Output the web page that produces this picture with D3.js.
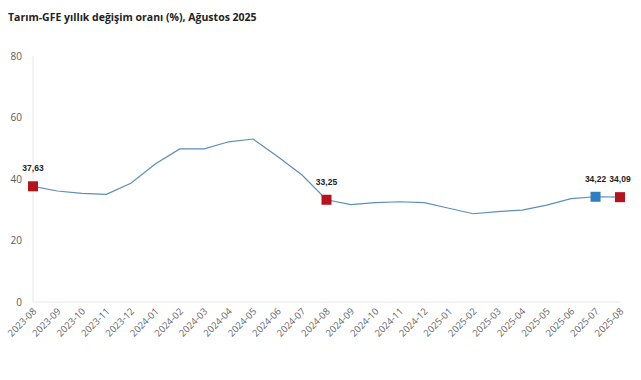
<!DOCTYPE html>
<html lang="tr">
<head>
<meta charset="utf-8">
<title>Tarım-GFE</title>
<script src="https://cdn.jsdelivr.net/npm/d3@7"></script>
<style>
  body { margin: 0; background: #fff; }
  text { font-family: "Open Sans", "Noto Sans", sans-serif; }
</style>
</head>
<body>
<script>
// data
var months = ["2023-08","2023-09","2023-10","2023-11","2023-12","2024-01","2024-02","2024-03",
              "2024-04","2024-05","2024-06","2024-07","2024-08","2024-09","2024-10","2024-11",
              "2024-12","2025-01","2025-02","2025-03","2025-04","2025-05","2025-06","2025-07","2025-08"];
var values = [37.63, 36.1, 35.3, 35.0, 38.6, 44.9, 49.8, 49.8,
              52.1, 53.0, 47.3, 41.3, 33.25, 31.7, 32.3, 32.6,
              32.3, 30.5, 28.7, 29.4, 29.9, 31.5, 33.6, 34.22, 34.09];
var yTicks = [0, 20, 40, 60, 80];
var redMarks = ["2023-08", "2024-08", "2025-08"];
var blueMarks = ["2025-07"];

var w = 641, h = 380;
var svg = d3.select("body").append("svg").attr("width", w).attr("height", h);

svg.append("text")
   .attr("x", 8).attr("y", 21)
   .attr("font-size", 10.5).attr("font-weight", "bold").attr("fill", "#222")
   .text("Tarım-GFE yıllık değişim oranı (%), Ağustos 2025");

var x = d3.scalePoint().domain(months).range([33, 620]);
var y = d3.scaleLinear().domain([0, 80]).range([302, 56]);

// axes lines
svg.append("line").attr("x1", 33).attr("x2", 33).attr("y1", y(80)).attr("y2", y(0))
   .attr("stroke", "#e6e6e6");
svg.append("line").attr("x1", 33).attr("x2", 620).attr("y1", y(0)).attr("y2", y(0))
   .attr("stroke", "#e6e6e6");

// y labels
svg.selectAll(".yl").data(yTicks).enter().append("text")
   .attr("x", 22).attr("y", function(d) { return y(d) + 3.5; })
   .attr("text-anchor", "end").attr("font-size", 10).attr("fill", "#595959")
   .text(function(d) { return d; });

// x labels
svg.selectAll(".xl").data(months).enter().append("text")
   .attr("text-anchor", "end").attr("font-size", 9.5).attr("fill", "#666")
   .attr("transform", function(d) { return "translate(" + (x(d) + 4) + ",312) rotate(-45)"; })
   .text(function(d) { return d; });

// line
var line = d3.line()
   .x(function(d, i) { return x(months[i]); })
   .y(function(d) { return y(d); });
svg.append("path").datum(values).attr("d", line)
   .attr("fill", "none").attr("stroke", "#5b8fb9").attr("stroke-width", 1.2);

// markers
var marks = months.map(function(m, i) { return { m: m, v: values[i] }; })
   .filter(function(d) { return redMarks.indexOf(d.m) >= 0 || blueMarks.indexOf(d.m) >= 0; });

svg.selectAll(".mk").data(marks).enter().append("rect")
   .attr("x", function(d) { return x(d.m) - 5; })
   .attr("y", function(d) { return y(d.v) - 5; })
   .attr("width", 10).attr("height", 10)
   .attr("fill", function(d) { return blueMarks.indexOf(d.m) >= 0 ? "#2e7ec1" : "#b5121b"; });

svg.selectAll(".ml").data(marks).enter().append("text")
   .attr("x", function(d) { return x(d.m); })
   .attr("y", function(d) { return y(d.v) - 15; })
   .attr("text-anchor", "middle").attr("font-size", 8.5).attr("font-weight", "bold").attr("fill", "#222")
   .style("font-family", "'Liberation Sans', Arial, sans-serif")
   .text(function(d) { return d3.format(".2f")(d.v).replace(".", ","); });
</script>
</body>
</html>
